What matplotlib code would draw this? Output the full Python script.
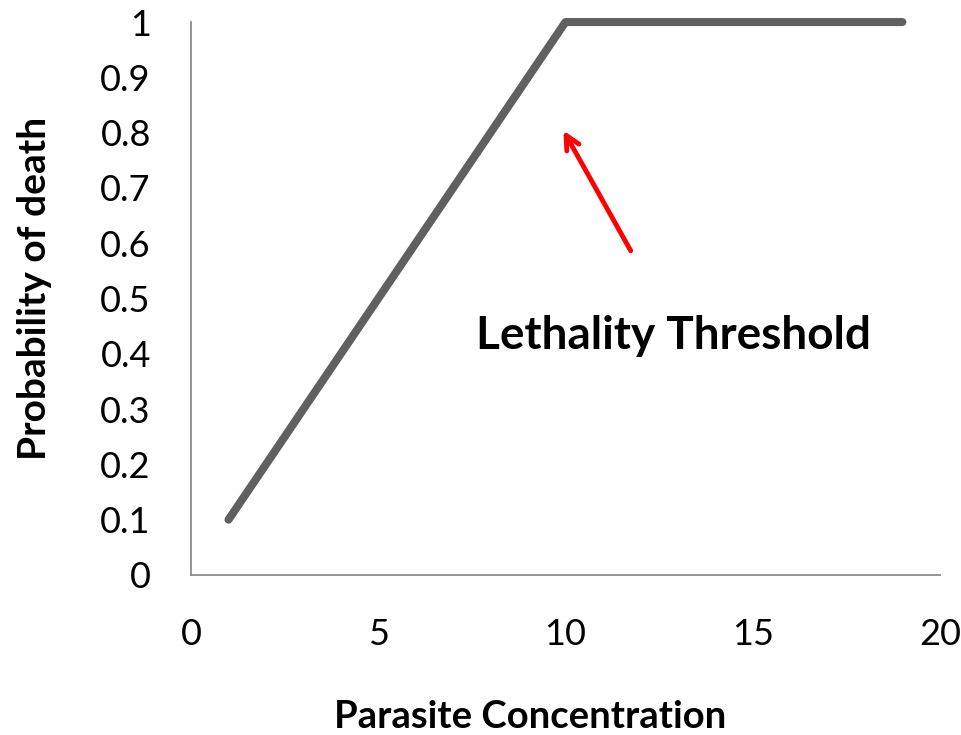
import matplotlib
matplotlib.use('Agg')
import matplotlib.pyplot as plt

plt.rcParams['font.family'] = ['Lato', 'DejaVu Sans']

# data
concentration = [1, 2, 3, 4, 5, 6, 7, 8, 9, 10, 11, 12, 13, 14, 15, 16, 17, 18, 19]
prob_death = [0.1, 0.2, 0.3, 0.4, 0.5, 0.6, 0.7, 0.8, 0.9, 1, 1, 1, 1, 1, 1, 1, 1, 1, 1]
x_ticks = [0, 5, 10, 15, 20]
y_ticks = [0, 0.1, 0.2, 0.3, 0.4, 0.5, 0.6, 0.7, 0.8, 0.9, 1]
y_tick_labels = ['0', '0.1', '0.2', '0.3', '0.4', '0.5', '0.6', '0.7', '0.8', '0.9', '1']

fig = plt.figure(figsize=(9.61, 7.35), dpi=100)
ax = fig.add_axes([0.1988, 0.2177, 0.7792, 0.7523])

ax.plot(concentration, prob_death, color='#606060', lw=5.8, solid_capstyle='round',
        solid_joinstyle='round', clip_on=False)

ax.set_xlim(0, 20)
ax.set_ylim(0, 1)
ax.set_xticks(x_ticks)
ax.set_yticks(y_ticks)
ax.set_yticklabels(y_tick_labels)
ax.tick_params(length=0, labelsize=26)
ax.tick_params(axis='y', pad=29)
ax.tick_params(axis='x', pad=31)
for s in ['top', 'right']:
    ax.spines[s].set_visible(False)
for s in ['left', 'bottom']:
    ax.spines[s].set_color('#8c8c8c')
    ax.spines[s].set_linewidth(1.3)

ax.set_xlabel('Parasite Concentration', fontsize=27.5, fontweight='bold')
ax.xaxis.set_label_coords(0.4526, -0.257)
ax.xaxis.label.set_verticalalignment('center')
ax.set_ylabel('Probability of death', fontsize=28, fontweight='bold')
ax.yaxis.set_label_coords(-0.2096, 0.519)
ax.yaxis.label.set_verticalalignment('center')

ax.annotate('', xy=(9.91, 0.808), xytext=(11.78, 0.582),
            arrowprops=dict(arrowstyle='->', color='red', lw=3.5, mutation_scale=25))
ax.text(12.88, 0.4087, 'Lethality Threshold', fontsize=33, fontweight='bold',
        ha='center', va='baseline')

fig.savefig('out.png', dpi=100)
